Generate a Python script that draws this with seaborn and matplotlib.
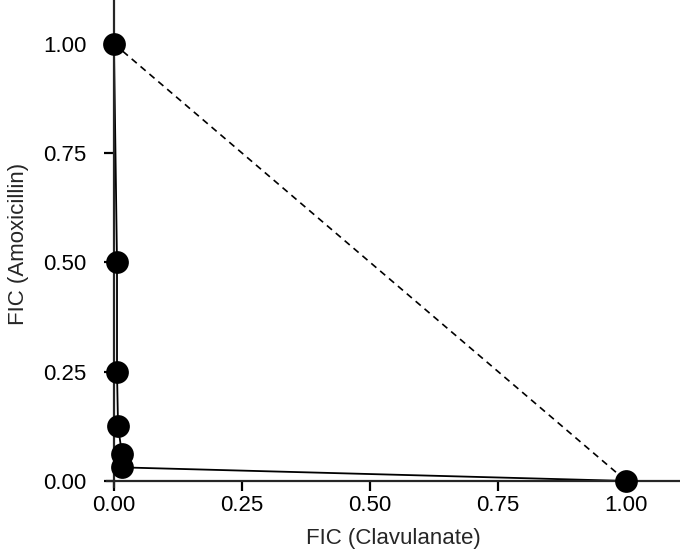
import matplotlib
matplotlib.use("Agg")
import matplotlib.pyplot as plt
import seaborn as sns
import pandas as pd

# isobologram values
fic_clav = [0.0, 0.006, 0.006, 0.008, 0.0156, 0.0156, 1.0]
fic_amox = [1.0, 0.5, 0.25, 0.125, 0.0625, 0.031, 0.0]
additive_x = [0.0, 1.0]
additive_y = [1.0, 0.0]
ticks = [0.0, 0.25, 0.5, 0.75, 1.0]
tick_labels = ["0.00", "0.25", "0.50", "0.75", "1.00"]

df = pd.DataFrame({"clav": fic_clav, "amox": fic_amox})
line_df = pd.DataFrame({"x": additive_x, "y": additive_y})

sns.set_style("ticks")
plt.rcParams["font.family"] = ["Liberation Sans", "DejaVu Sans"]

fig = plt.figure(figsize=(6.8, 5.56), dpi=100)
ax = fig.add_axes([0.157, 0.124, 0.843, 0.876])

sns.lineplot(data=line_df, x="x", y="y", ax=ax, color="black", lw=1.2,
             linestyle=(0, (4, 3)), sort=False)
sns.lineplot(data=df, x="clav", y="amox", ax=ax, color="black", lw=1.3,
             sort=False, estimator=None)
sns.scatterplot(data=df, x="clav", y="amox", ax=ax, color="black", s=230,
                edgecolor="black", zorder=5, clip_on=False)

ax.set_xlim(-0.014, 1.105)
ax.set_ylim(-0.014, 1.1)
ax.spines["left"].set_position(("data", 0))
ax.spines["bottom"].set_position(("data", 0))
ax.spines["right"].set_visible(False)
ax.spines["top"].set_visible(False)
for s in ["left", "bottom"]:
    ax.spines[s].set_linewidth(1.6)

ax.set_xticks(ticks)
ax.set_xticklabels(tick_labels)
ax.set_yticks(ticks)
ax.set_yticklabels(tick_labels)
ax.tick_params(axis="both", direction="out", length=7, width=1.6,
               labelsize=16, colors="black")
ax.tick_params(axis="x", pad=3)
ax.tick_params(axis="y", pad=13)
ax.set_xlabel("FIC (Clavulanate)", fontsize=16, labelpad=9)
ax.set_ylabel("FIC (Amoxicillin)", fontsize=16, labelpad=10)

fig.savefig("out.png", dpi=100)
